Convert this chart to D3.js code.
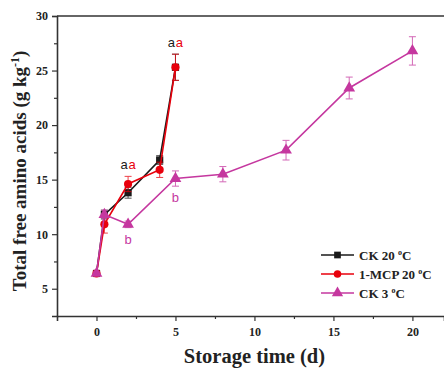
<!DOCTYPE html>
<html>
<head>
<meta charset="utf-8">
<script src="https://cdn.jsdelivr.net/npm/d3@7"></script>
<style>
  body { margin: 0; background: #fff; }
  svg { display: block; }
  .tick text { font-family: "Liberation Serif", serif; font-weight: bold; font-size: 12px; fill: #222; }
  .axisTitle { font-family: "Liberation Serif", serif; font-weight: bold; font-size: 19px; fill: #222; }
  .legText { font-family: "Liberation Serif", serif; font-weight: bold; font-size: 13px; fill: #222; }
  .sig { font-family: "Liberation Sans", Arial, sans-serif; font-size: 13px; }
</style>
</head>
<body>
<svg id="chart" width="444" height="369"></svg>
<script>
var width = 444, height = 369;
var margin = { left: 57, top: 16, right: 0, bottom: 53 };

// data
var seriesNames = ["CK 20", "1-MCP 20", "CK 3"];
var seriesColors = ["#1a1a1a", "#e8000c", "#c5379f"];

var ck20Days = [0, 0.5, 2, 4, 5];
var ck20Values = [6.4, 11.8, 13.8, 16.8, 25.3];
var ck20Err = [0.2, 0.4, 0.5, 0.4, 1.2];

var mcpDays = [0, 0.5, 2, 4, 5];
var mcpValues = [6.4, 10.9, 14.6, 15.9, 25.3];
var mcpErr = [0.2, 0.8, 0.7, 0.7, 1.2];

var ck3Days = [0, 0.5, 2, 5, 8, 12, 16, 20];
var ck3Values = [6.4, 11.8, 10.9, 15.1, 15.5, 17.7, 23.4, 26.8];
var ck3Err = [0.2, 0.4, 0.3, 0.7, 0.7, 0.9, 1.0, 1.3];

var xTicks = [0, 5, 10, 15, 20];
var yTicks = [5, 10, 15, 20, 25, 30];

// significance letters: day, series index, letter, above/below
var sigLetters = [
  { day: 2, s: 0, letter: "a", pos: "above" },
  { day: 2, s: 1, letter: "a", pos: "above" },
  { day: 5, s: 0, letter: "a", pos: "above" },
  { day: 5, s: 1, letter: "a", pos: "above" },
  { day: 2, s: 2, letter: "b", pos: "below" },
  { day: 5, s: 2, letter: "b", pos: "below" }
];

var series = [
  { days: ck20Days, vals: ck20Values, err: ck20Err, shape: d3.symbolSquare },
  { days: mcpDays, vals: mcpValues, err: mcpErr, shape: d3.symbolCircle },
  { days: ck3Days, vals: ck3Values, err: ck3Err, shape: d3.symbolTriangle }
];

var svg = d3.select("#chart");

var x = d3.scaleLinear().domain([-2.5, 22]).range([margin.left, width - margin.right]);
var y = d3.scaleLinear().domain([2.5, 30]).range([height - margin.bottom, margin.top]);

var axisColor = "#333";

// x axis
var xAxis = svg.append("g")
  .attr("transform", "translate(0," + (height - margin.bottom) + ")")
  .call(d3.axisBottom(x).tickValues(xTicks).tickSize(5).tickPadding(6).tickFormat(d3.format("d")));
svg.append("g")
  .attr("transform", "translate(0," + (height - margin.bottom) + ")")
  .call(d3.axisBottom(x).tickValues([2.5, 7.5, 12.5, 17.5]).tickSize(3).tickFormat(""))
  .select(".domain").remove();

// y axis
var yAxis = svg.append("g")
  .attr("transform", "translate(" + margin.left + ",0)")
  .call(d3.axisLeft(y).tickValues(yTicks).tickSize(5).tickPadding(4).tickFormat(d3.format("d")));
svg.append("g")
  .attr("transform", "translate(" + margin.left + ",0)")
  .call(d3.axisLeft(y).tickValues([7.5, 12.5, 17.5, 22.5, 27.5]).tickSize(3).tickFormat(""))
  .select(".domain").remove();

svg.selectAll(".domain").attr("stroke", axisColor).attr("stroke-width", 1.6);
svg.selectAll(".tick line").attr("stroke", axisColor).attr("stroke-width", 1.2);

// top frame
svg.append("line")
  .attr("x1", margin.left).attr("x2", width)
  .attr("y1", margin.top).attr("y2", margin.top)
  .attr("stroke", axisColor).attr("stroke-width", 1.6);

// axis titles
svg.append("text")
  .attr("class", "axisTitle")
  .attr("x", x(10))
  .attr("y", 363)
  .attr("text-anchor", "middle")
  .style("font-size", "20.5px")
  .text("Storage time (d)");

var yt = svg.append("text")
  .attr("class", "axisTitle")
  .attr("transform", "translate(26," + (y(15.8)) + ") rotate(-90)")
  .attr("text-anchor", "middle");
yt.append("tspan").text("Total free amino acids (g kg");
yt.append("tspan").attr("dy", -7).style("font-size", "12px").text("-1");
yt.append("tspan").attr("dy", 7).text(")");

// series
var line = d3.line().x(function (d) { return x(d[0]); }).y(function (d) { return y(d[1]); });

series.forEach(function (s, si) {
  var col = seriesColors[si];
  var pts = s.days.map(function (d, i) { return [d, s.vals[i], s.err[i]]; });
  var g = svg.append("g");

  g.append("path")
    .datum(pts)
    .attr("d", line)
    .attr("fill", "none")
    .attr("stroke", col)
    .attr("stroke-width", 1.6);

  // error bars
  var eb = g.selectAll(".eb").data(pts).enter().append("g").attr("opacity", 0.75);
  eb.append("line")
    .attr("x1", function (d) { return x(d[0]); }).attr("x2", function (d) { return x(d[0]); })
    .attr("y1", function (d) { return y(d[1] - d[2]); }).attr("y2", function (d) { return y(d[1] + d[2]); })
    .attr("stroke", col).attr("stroke-width", 1);
  [-1, 1].forEach(function (sgn) {
    eb.append("line")
      .attr("x1", function (d) { return x(d[0]) - 3.5; }).attr("x2", function (d) { return x(d[0]) + 3.5; })
      .attr("y1", function (d) { return y(d[1] + sgn * d[2]); }).attr("y2", function (d) { return y(d[1] + sgn * d[2]); })
      .attr("stroke", col).attr("stroke-width", 1);
  });

  g.selectAll(".pt").data(pts).enter().append("path")
    .attr("transform", function (d) { return "translate(" + x(d[0]) + "," + y(d[1]) + ")"; })
    .attr("d", d3.symbol().type(s.shape).size(si === 2 ? 60 : 52))
    .attr("fill", col);
});

// significance letters
sigLetters.forEach(function (L) {
  var s = series[L.s];
  var i = s.days.indexOf(L.day);
  var v = s.vals[i];
  var offset = 0;
  if (L.pos === "above") {
    // letters sit side by side above the highest error bar at that day
    var top = d3.max([0, 1], function (k) {
      var j = series[k].days.indexOf(L.day);
      return series[k].vals[j] + series[k].err[j];
    });
    offset = L.s === 0 ? -4 : 4;
    svg.append("text").attr("class", "sig")
      .attr("x", x(L.day) + offset)
      .attr("y", y(top) - 7)
      .attr("text-anchor", "middle")
      .attr("fill", seriesColors[L.s])
      .text(L.letter);
  } else {
    svg.append("text").attr("class", "sig")
      .attr("x", x(L.day))
      .attr("y", y(v - s.err[i]) + 16)
      .attr("text-anchor", "middle")
      .attr("fill", seriesColors[L.s])
      .text(L.letter);
  }
});

// legend
var leg = svg.append("g").attr("transform", "translate(321,255)");
seriesNames.forEach(function (name, i) {
  var row = leg.append("g").attr("transform", "translate(0," + (i * 19) + ")");
  row.append("line").attr("x1", 0).attr("x2", 33).attr("y1", 0).attr("y2", 0)
    .attr("stroke", seriesColors[i]).attr("stroke-width", 1.6);
  row.append("path").attr("transform", "translate(16.5,0)")
    .attr("d", d3.symbol().type(series[i].shape).size(i === 2 ? 55 : 45))
    .attr("fill", seriesColors[i]);
  var t = row.append("text").attr("class", "legText").attr("x", 38).attr("y", 4.5);
  t.append("tspan").text(name + " ");
  t.append("tspan").attr("dy", -5).style("font-size", "8px").text("o");
  t.append("tspan").attr("dy", 5).text("C");
});
</script>
</body>
</html>
